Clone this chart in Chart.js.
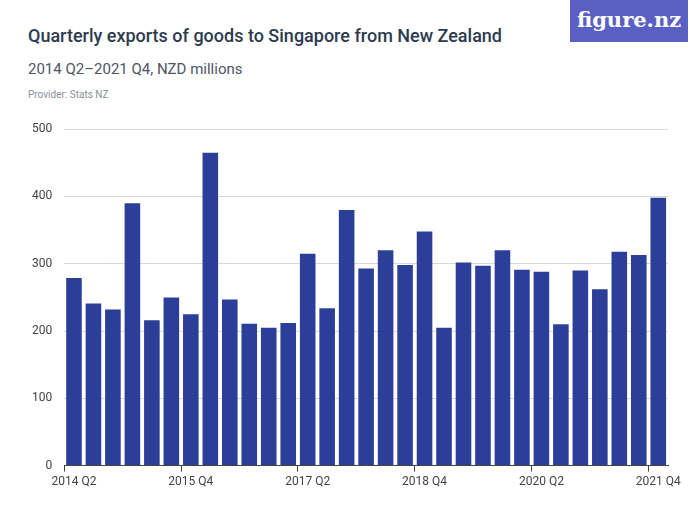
<!DOCTYPE html>
<html>
<head>
<meta charset="utf-8">
<script src="https://cdn.jsdelivr.net/npm/chart.js@4"></script>
<style>
	body { margin: 0; width: 700px; height: 525px; background: #fff; font-family: Roboto, 'Noto Sans', sans-serif; position: relative; overflow: hidden; }
	#title { position: absolute; left: 28px; top: 25px; font-size: 18px; font-weight: 500; color: #2d3a4f; }
	#subtitle { position: absolute; left: 28px; top: 60px; font-size: 15px; color: #4d5566; }
	#provider { position: absolute; left: 28px; top: 89px; font-size: 10px; color: #8a8f99; }
	#logo { position: absolute; right: 12px; top: 0; width: 118px; height: 42px; background: #5a5fc4; color: #fff; font-size: 21px; font-weight: bold; font-family: 'DejaVu Serif', serif; text-align: center; line-height: 40px; }
	#wrap { position: absolute; left: 0; top: 110px; width: 700px; height: 415px; }
</style>
</head>
<body>
<div id="title">Quarterly exports of goods to Singapore from New Zealand</div>
<div id="subtitle">2014 Q2–2021 Q4, NZD millions</div>
<div id="provider">Provider: Stats NZ</div>
<div id="logo">figure.nz</div>
<div id="wrap"><canvas id="chart"></canvas></div>
<script>
const years = [2014, 2015, 2016, 2017, 2018, 2019, 2020, 2021];
const quarters = [];
years.forEach(y => {
	for (let q = 1; q <= 4; q++) {
		if (y === 2014 && q === 1) continue;
		quarters.push(y + ' Q' + q);
	}
});
const exportsNZD = [279, 241, 232, 390, 216, 250, 225, 465, 247, 211, 205, 212, 315, 234, 380, 293, 320, 298, 348, 205, 302, 297, 320, 291, 288, 210, 290, 262, 318, 313, 398];
const yTicks = [0, 100, 200, 300, 400, 500];

new Chart(document.getElementById('chart'), {
	type: 'bar',
	data: {
		labels: quarters,
		datasets: [{
			data: exportsNZD,
			backgroundColor: '#2b3f98',
			categoryPercentage: 0.8,
			barPercentage: 1
		}]
	},
	options: {
		responsive: true,
		maintainAspectRatio: false,
		animation: { duration: 0 },
		layout: { padding: { left: 20, right: 32, top: 5, bottom: 33 } },
		plugins: { legend: { display: false }, tooltip: { enabled: false } },
		scales: {
			x: {
				grid: {
					drawOnChartArea: false,
					tickLength: 6,
					color: ctx => ctx.index % 6 === 0 ? '#444' : 'transparent'
				},
				border: { color: '#444' },
				ticks: {
					autoSkip: false,
					maxRotation: 0,
					color: '#444',
					font: { family: 'Roboto', size: 12 },
					callback: (v, i) => i % 6 === 0 ? quarters[i] : ''
				}
			},
			y: {
				min: 0,
				max: 500,
				afterBuildTicks: axis => { axis.ticks = yTicks.map(v => ({ value: v })); },
				grid: { color: '#d9d9d9', drawTicks: false },
				border: { display: false },
				ticks: {
					color: '#444',
					padding: 12,
					font: { family: 'Roboto', size: 12 }
				}
			}
		}
	}
});
</script>
</body>
</html>
